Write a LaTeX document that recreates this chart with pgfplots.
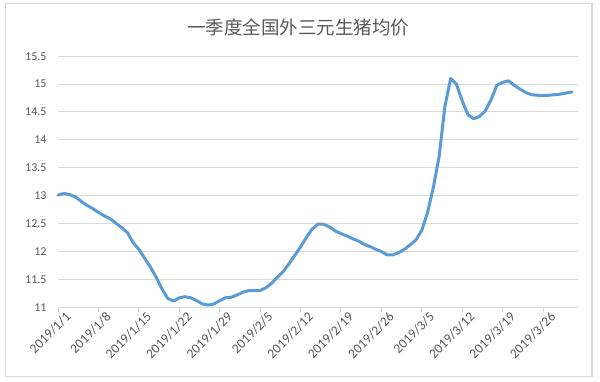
\documentclass[border=0pt]{standalone}
\usepackage{fontspec}
\setmainfont{Carlito}
\newfontfamily\cjk{Noto Sans CJK SC}
\usepackage{pgfplots}
\pgfplotsset{compat=1.18}
\definecolor{lineblue}{HTML}{5B9BD5}
\definecolor{gridc}{HTML}{D9D9D9}
\definecolor{txt}{HTML}{595959}
\definecolor{frame}{HTML}{D9D9D9}
\pgfplotstableread{
day price
0 13.01
1 13.04
2 13.02
3 12.98
4 12.90
5 12.83
6 12.77
7 12.70
8 12.64
9 12.59
10 12.51
11 12.43
12 12.34
13 12.16
14 12.04
15 11.88
16 11.72
17 11.54
18 11.33
19 11.16
20 11.11
21 11.17
22 11.19
23 11.17
24 11.12
25 11.06
26 11.04
27 11.06
28 11.12
29 11.17
30 11.18
31 11.22
32 11.27
33 11.30
34 11.30
35 11.30
36 11.35
37 11.43
38 11.54
39 11.64
40 11.78
41 11.93
42 12.08
43 12.25
44 12.40
45 12.49
46 12.49
47 12.44
48 12.37
49 12.32
50 12.28
51 12.23
52 12.19
53 12.13
54 12.09
55 12.04
56 12.00
57 11.94
58 11.94
59 11.98
60 12.04
61 12.12
62 12.21
63 12.38
64 12.70
65 13.15
66 13.70
67 14.60
68 15.10
69 15.00
70 14.70
71 14.45
72 14.38
73 14.42
74 14.52
75 14.72
76 14.98
77 15.03
78 15.06
79 14.98
80 14.91
81 14.85
82 14.81
83 14.80
84 14.80
85 14.80
86 14.81
87 14.82
88 14.84
89 14.86
}\pricedata
\begin{document}
\begin{tikzpicture}[x=1pt,y=1pt]
\useasboundingbox (0,0) rectangle (600,-382);
\fill[white] (0,0) rectangle (600,-382);
\draw[color=frame, line width=1.2pt] (5.5,-3.5) rectangle (592,-376.5);
\node[font=\cjk\fontsize{18.5}{19}\selectfont, text=txt] at (298,-27) {一季度全国外三元生猪均价};
\begin{axis}[
  at={(58pt,-307.3pt)}, anchor=south west,
  scale only axis, width=519.7pt, height=251.1pt,
  xmin=0, xmax=90, ymin=11, ymax=15.5,
  axis line style={draw=none},
  ymajorgrids, grid style={color=gridc, line width=1pt},
  ytick={11,11.5,12,12.5,13,13.5,14,14.5,15,15.5},
  yticklabels={11,11.5,12,12.5,13,13.5,14,14.5,15,15.5},
  xtick={0,7,14,21,28,35,42,49,56,63,70,77,84},
  xticklabels={2019/1/1,2019/1/8,2019/1/15,2019/1/22,2019/1/29,2019/2/5,2019/2/12,2019/2/19,2019/2/26,2019/3/5,2019/3/12,2019/3/19,2019/3/26},
  xtick pos=bottom, ytick pos=left,
  tick align=outside,
  major tick length=5pt,
  x tick style={color=gridc, line width=1pt},
  y tick style={draw=none},
  tick label style={text=txt},
  yticklabel style={font=\fontsize{12}{12}\selectfont, anchor=east, xshift=-3pt},
  xticklabel style={font=\fontsize{13.5}{13.5}\selectfont, rotate=45, anchor=east, xshift=9pt, yshift=-9pt},
  clip=false,
]
\addplot[color=lineblue, line width=3pt, line join=round, line cap=round, mark=none] table[x=day, y=price] {\pricedata};
\end{axis}
\end{tikzpicture}
\end{document}
